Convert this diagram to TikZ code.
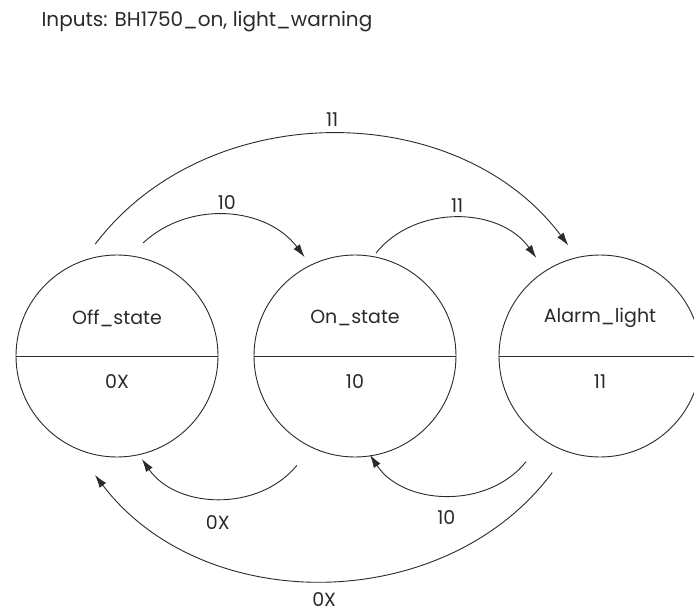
\documentclass[tikz,border=0pt]{standalone}
\usepackage{fontspec}
\setmainfont{Poppins}
\usetikzlibrary{arrows.meta,calc}
\definecolor{ink}{HTML}{2A2A2A}
\begin{document}
\begin{tikzpicture}[x=1pt,y=-1pt,
    every node/.style={text=ink,font=\fontsize{19}{22}\selectfont},
    state/.style={circle,draw=ink,line width=0.9pt,minimum size=202pt,inner sep=0pt},
    trans/.style={draw=ink,line width=0.9pt,-{Latex[length=13pt,width=8pt]}},
    lbl/.style={inner sep=2pt}]
  \useasboundingbox (0,0) rectangle (694,613);
  \fill[white] (0,0) rectangle (694,613);

  \node[anchor=west,font=\fontsize{20}{23}\selectfont] (title) at (38,22)
    {Inputs: BH1750\_on, light\_warning};

  % states: circle with a dividing line, name above, outputs below
  \node[state] (off) at (117,356) {};
  \node[state] (on) at (355,356) {};
  \node[state] (alarm) at (600,356) {};
  \foreach \s in {off,on,alarm}
    \draw[ink,line width=0.9pt] (\s.west) -- (\s.east);

  \node (offname) at ($(off)+(0,-38)$) {Off\_state};
  \node (offout) at ($(off)+(0,26)$) {0X};
  \node (onname) at ($(on)+(0,-38)$) {On\_state};
  \node (onout) at ($(on)+(0,26)$) {10};
  \node (alarmname) at ($(alarm)+(0,-38)$) {Alarm\_light};
  \node (alarmout) at ($(alarm)+(0,26)$) {11};

  % end points of the transitions, just off the circles
  % (y grows downwards here, so upward directions have negative angles)
  \coordinate (a1s) at ($(off)+(-101:114)$);
  \coordinate (a1e) at ($(alarm)+(-106:115)$);
  \coordinate (a2s) at ($(off)+(-77:116)$);
  \coordinate (a2e) at ($(on)+(-117:111)$);
  \coordinate (a3s) at ($(on)+(-78.5:105)$);
  \coordinate (a3e) at ($(alarm)+(-123:117)$);
  \coordinate (a4s) at ($(on)+(-242:124)$);
  \coordinate (a4e) at ($(off)+(-283.6:106)$);
  \coordinate (a5s) at ($(alarm)+(-235:129)$);
  \coordinate (a5e) at ($(on)+(-278.6:100)$);
  \coordinate (a6s) at ($(alarm)+(-247.7:126)$);
  \coordinate (a6e) at ($(off)+(-259.5:121)$);

  % transitions
  \draw[trans] (a1s) to[bend left=53] node[lbl,above=5pt] (l1) {11} (a1e);
  \draw[trans] (a2s) to[bend left=48] node[lbl,above=3pt] (l2) {10} (a2e);
  \draw[trans] (a3s) to[bend left=53] node[lbl,above=3pt] (l3) {11} (a3e);
  \draw[trans] (a4s) to[bend left=53] node[lbl,below=15pt] (l4) {0X} (a4e);
  \draw[trans] (a5s) to[bend left=54] node[lbl,below=13pt] (l5) {10} (a5e);
  \draw[trans] (a6s) to[bend left=53] node[lbl,below=9pt] (l6) {0X} (a6e);
\end{tikzpicture}
\end{document}
